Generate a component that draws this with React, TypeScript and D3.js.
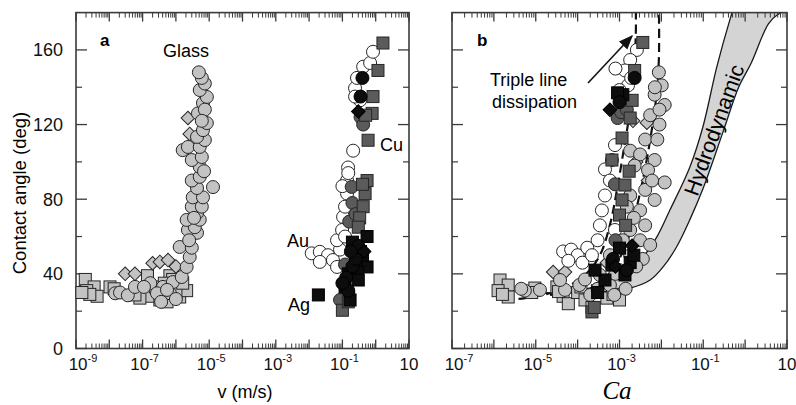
import React from 'react'
import * as d3 from 'd3'

type Pt = [number, number]

// ---- panel a: v (m/s) vs contact angle (deg) ----
const glassSquaresA: Pt[] = [
  [1.9e-9, 37], [3.5e-9, 33], [2.1e-9, 31], [4.3e-9, 28], [2.6e-9, 29], [1.5e-9, 30],
  [1.05e-8, 33], [1.4e-8, 32], [1.4e-7, 39], [1.7e-7, 28], [6.6e-7, 39], [8e-7, 37],
  [3.3e-7, 26], [1.3e-6, 27.6], [2.1e-6, 31], [8.3e-8, 27], [5.9e-8, 28.7], [5.4e-7, 25],
  [1e-6, 30], [2.4e-7, 33], [4.5e-7, 35], [1.6e-6, 35]
]
const glassDiamondsA: Pt[] = [
  [3e-8, 40], [5.9e-8, 40], [2e-7, 45.7], [3.3e-7, 46.4], [5.8e-7, 47.4], [2.3e-6, 123.5],
  [2.6e-6, 115], [1e-6, 44]
]
const glassCirclesA: Pt[] = [
  [1.5e-8, 29.6], [2.1e-8, 30], [3.6e-8, 28.5], [5.9e-8, 33], [1.7e-7, 35], [4.1e-7, 33],
  [6.6e-7, 29.6], [8.1e-7, 35.6], [1.5e-6, 38.3], [2.1e-6, 43.7], [2.6e-6, 49], [1.3e-6, 54.4],
  [3e-6, 54], [4.3e-6, 62], [2.3e-6, 63.5], [3.7e-6, 65], [2.1e-6, 68.9], [5.2e-6, 69],
  [4.3e-6, 72.6], [3e-6, 76], [6e-6, 76], [3.2e-6, 81], [6.5e-6, 81], [1.3e-5, 86.5],
  [4.3e-6, 86], [3e-6, 90], [5.2e-6, 92], [5.2e-6, 97.3], [3e-6, 101], [6e-6, 102.6],
  [1.6e-6, 106.3], [2.3e-6, 108], [5.2e-6, 108], [7.4e-6, 111.7], [4.3e-6, 113.4], [6.5e-6, 117],
  [8.5e-6, 120.8], [4.6e-6, 126], [6.5e-6, 131.5], [8.5e-6, 134.8], [5.2e-6, 138.5], [7.4e-6, 142],
  [6e-6, 145], [4.9e-6, 148], [1.1e-7, 33], [2.7e-7, 29.6], [5.4e-7, 31.4], [3.6e-7, 25],
  [1e-6, 26.5], [7.4e-6, 128], [6e-6, 122], [7e-6, 95], [2.5e-6, 58], [3.5e-6, 70]
]
const auCirclesA: Pt[] = [
  [1.2e-2, 51], [2.1e-2, 51.8], [3.7e-2, 50], [2.1e-2, 46.4], [5.2e-2, 47.4], [6.9e-2, 43.7],
  [8.5e-2, 53], [6.9e-2, 58], [9.8e-2, 63.5], [0.105, 70.5], [0.12, 76], [0.138, 83],
  [0.138, 90], [0.148, 97], [0.21, 106], [0.34, 133], [0.24, 139.5], [0.275, 145],
  [0.42, 151], [0.68, 153], [0.83, 159], [0.24, 135], [0.1, 87], [0.12, 60], [0.15, 94]
]
const cuSquaresA: Pt[] = [
  [1.65, 163.7], [1.17, 149], [0.83, 135], [0.78, 126], [0.59, 111.6], [0.55, 90],
  [0.48, 83], [0.42, 76], [0.33, 70], [0.1, 20.5], [0.15, 25], [0.5, 125], [0.4, 88], [0.3, 65]
]
const cuCirclesA: Pt[] = [
  [0.35, 124], [0.42, 120], [0.19, 86.6], [0.2, 78], [0.16, 68], [0.15, 30],
  [0.085, 26], [0.12, 45], [0.25, 72]
]
const agSquaresA: Pt[] = [
  [1.9e-2, 28.7], [0.55, 43.7], [0.55, 60], [0.35, 52], [0.25, 47], [0.12, 33],
  [0.15, 40], [0.28, 41], [0.3, 36.7], [0.17, 26], [0.4, 50], [0.2, 57]
]
const agCirclesA: Pt[] = [
  [0.13, 38], [0.2, 44], [0.15, 31], [0.3, 55], [0.1, 35], [0.4, 145], [0.35, 135],
  [0.25, 48], [0.18, 52]
]
const agDiamondsA: Pt[] = [[0.3, 127], [0.45, 52]]

// ---- panel b: Ca vs contact angle (deg) ----
const glassSquaresB: Pt[] = [
  [1.4e-6, 36.7], [2.2e-6, 34], [1.26e-6, 31], [2.2e-6, 27.6], [1.6e-6, 29], [9.5e-6, 32.4],
  [8e-6, 30], [3.2e-5, 33], [4.5e-5, 28], [6e-5, 24], [1e-4, 30], [1.5e-4, 26], [2.2e-4, 22],
  [3e-4, 31], [5e-4, 27], [7e-4, 29], [1e-3, 26], [3.5e-5, 30.5], [1.2e-4, 33]
]
const glassDiamondsB: Pt[] = [
  [2.6e-5, 41], [5e-5, 41], [5e-4, 46], [2.1e-3, 122], [4.5e-3, 121], [4.8e-3, 90],
  [2.5e-3, 100], [1.2e-3, 40]
]
const glassCirclesB: Pt[] = [
  [8.7e-3, 148], [1.02e-2, 141], [6.9e-3, 136], [1.2e-2, 130.5], [5.4e-3, 125], [9e-3, 120],
  [4.1e-3, 112], [8e-3, 112], [1.8e-3, 106], [3.1e-3, 104], [6.9e-3, 101], [2.3e-3, 98],
  [4.8e-3, 95.6], [1.2e-2, 89], [4.1e-3, 85], [1.8e-3, 82], [6.9e-3, 79.6], [3.1e-3, 74],
  [1.5e-3, 76], [4.1e-3, 66], [1.8e-3, 63.5], [1.2e-3, 58], [3.1e-3, 58], [5.4e-3, 55.5],
  [5.9e-4, 50], [1.8e-3, 50], [3.6e-3, 48], [1e-3, 42], [3.4e-4, 39.4], [2.5e-3, 44],
  [5.9e-4, 34], [1.1e-4, 34], [5e-5, 31.4], [1.26e-5, 31.4], [5.5e-6, 31], [4.5e-6, 32],
  [2e-4, 28.7], [7.5e-4, 28.7], [3.8e-5, 36.7], [1.5e-4, 37], [7e-3, 140], [9e-3, 128],
  [6e-3, 90], [2.2e-3, 70], [8e-4, 40], [3e-4, 32], [1.4e-3, 32]
]
const auCirclesB: Pt[] = [
  [2.6e-3, 160], [1.8e-3, 154.6], [1.35e-3, 149], [1.6e-3, 141], [1e-3, 138.5], [7.8e-4, 109],
  [6.6e-4, 101], [4.5e-4, 96], [5.9e-4, 90], [4.5e-4, 82], [3.8e-4, 74], [3.4e-4, 66],
  [3e-4, 58], [7.8e-4, 63.5], [4.5e-5, 52], [7e-5, 53], [1e-4, 50], [6e-5, 47],
  [1.3e-4, 46], [1.7e-4, 54], [2.2e-4, 50], [1.9e-3, 145], [8e-4, 150]
]
const cuSquaresB: Pt[] = [
  [3.6e-3, 164], [2.3e-3, 149], [2e-3, 133], [1.8e-3, 123.5], [1.15e-3, 112.8], [1.35e-3, 87.6],
  [1.15e-3, 79.6], [1e-3, 71.5], [1.4e-3, 66], [6.6e-4, 101], [2.2e-4, 19.6], [2.5e-4, 22],
  [1.7e-3, 95]
]
const cuCirclesB: Pt[] = [[9e-4, 123.5], [1.1e-3, 126.6], [7.8e-4, 88], [8e-4, 58], [1.5e-3, 128]]
const agSquaresB: Pt[] = [
  [1.2e-3, 136], [9e-4, 137], [6.6e-4, 44.7], [1.35e-3, 39.4], [4.5e-4, 36.7], [1.8e-3, 46],
  [3e-4, 30], [2.6e-4, 42], [1e-3, 53.8], [2.2e-3, 50]
]
const agCirclesB: Pt[] = [[2.3e-3, 145], [1e-3, 132], [7e-4, 48], [1.5e-3, 42]]
const agDiamondsB: Pt[] = [[5.9e-4, 128], [8e-4, 44], [2e-3, 55]]

// model curves in panel b
const tripleLine1: Pt[] = [
  [1.8e-6, 26], [5.5e-6, 27], [3.8e-5, 31.4], [1.5e-4, 39.4], [3.4e-4, 50], [5.9e-4, 66.2],
  [8.7e-4, 85], [1.26e-3, 106.4], [1.78e-3, 127.8], [2.2e-3, 149.5], [2.45e-3, 168], [2.45e-3, 185]
]
const tripleLine2: Pt[] = [
  [2.2e-5, 28.7], [1.1e-4, 31.4], [4.5e-4, 37.8], [1.26e-3, 52.8], [2.3e-3, 71.5],
  [3.6e-3, 90.3], [5.4e-3, 111.8], [7.4e-3, 133], [8.7e-3, 154.6], [8.7e-3, 185]
]
const hydroLeft: Pt[] = [
  [1.6e-5, 29.8], [1.9e-4, 32.4], [1e-3, 38.9], [3.6e-3, 49], [7.8e-3, 59.8], [1.6e-2, 74.2],
  [4.8e-2, 97.3], [9.8e-2, 118.7], [0.21, 150.8], [0.43, 176], [0.6, 186]
]
const hydroRight: Pt[] = [
  [1.6e-5, 29.6], [3.4e-4, 30.3], [1.8e-3, 32.4], [5.4e-3, 36.7], [1.1e-2, 43.7], [2.3e-2, 54.4],
  [5e-2, 70], [0.1, 86], [0.29, 115.4], [0.7, 140], [1.4, 153], [3.6, 174], [6, 179], [10, 181]
]

const yMajor = [0, 40, 80, 120, 160]
const yMinor = [20, 60, 100, 140]
const xLabelsA = [-9, -7, -5, -3, -1, 1]
const xLabelsB = [-7, -5, -3, -1, 1]

const FONT = 'Liberation Sans, Arial, Helvetica, sans-serif'
const LIGHT = '#c3c3c3'
const DARK = '#5b5b5b'
const BLACK = '#0d0d0d'
const EDGE = '#262626'

type Shape = 'circle' | 'square' | 'diamond'

function Marker({ cx, cy, shape, fill }: { cx: number; cy: number; shape: Shape; fill: string }) {
  const stroke = fill === BLACK ? '#000' : EDGE
  if (shape === 'circle') return <circle cx={cx} cy={cy} r={6.5} fill={fill} stroke={stroke} strokeWidth={1} />
  if (shape === 'square') return <rect x={cx - 6} y={cy - 6} width={12} height={12} fill={fill} stroke={stroke} strokeWidth={1} />
  return <rect x={cx - 4.8} y={cy - 4.8} width={9.6} height={9.6} fill={fill} stroke={stroke} strokeWidth={1} transform={`rotate(45 ${cx} ${cy})`} />
}

function Series({ data, x, y, shape, fill }: any) {
  return <g>{data.map((d: Pt, i: number) => <Marker key={i} cx={x(d[0])} cy={y(d[1])} shape={shape} fill={fill} />)}</g>
}

function Frame({ x, y, labels, yLabels }: any) {
  const [x0, x1] = x.range()
  const [y0, y1] = y.range()
  const [lo, hi] = x.domain().map((v: number) => Math.round(Math.log10(v)))
  const majors: number[] = d3.range(lo, hi + 1).map(e => Math.pow(10, e))
  const minors: number[] = []
  d3.range(lo, hi).forEach(e => d3.range(2, 10).forEach(k => minors.push(k * Math.pow(10, e))))
  const c = '#3a3a3a'
  return (
    <g>
      {minors.map((v, i) => (
        <g key={'m' + i} stroke={c} strokeWidth={1}>
          <line x1={x(v)} x2={x(v)} y1={y0} y2={y0 - 5} />
          <line x1={x(v)} x2={x(v)} y1={y1} y2={y1 + 5} />
        </g>
      ))}
      {majors.map((v, i) => (
        <g key={'M' + i} stroke={c} strokeWidth={1.3}>
          <line x1={x(v)} x2={x(v)} y1={y0} y2={y0 - 9} />
          <line x1={x(v)} x2={x(v)} y1={y1} y2={y1 + 9} />
        </g>
      ))}
      {yMajor.map((v, i) => (
        <g key={'Y' + i} stroke={c} strokeWidth={1.3}>
          <line x1={x0} x2={x0 + 11} y1={y(v)} y2={y(v)} />
          <line x1={x1} x2={x1 - 11} y1={y(v)} y2={y(v)} />
        </g>
      ))}
      {yMinor.map((v, i) => (
        <g key={'y' + i} stroke={c} strokeWidth={1.2}>
          <line x1={x0} x2={x0 + 6} y1={y(v)} y2={y(v)} />
          <line x1={x1} x2={x1 - 6} y1={y(v)} y2={y(v)} />
        </g>
      ))}
      <rect x={x0} y={y1} width={x1 - x0} height={y0 - y1} fill="none" stroke={c} strokeWidth={1.6} />
      {labels.map((e: number) => (
        <text key={'l' + e} x={x(Math.pow(10, e)) + (e === lo ? 7 : e === 1 ? 0 : 2)} y={370} textAnchor="middle" fontSize={17} fontFamily={FONT} fill="#111">
          10{e !== 1 && <tspan dy={-8} fontSize={11}>{e}</tspan>}
        </text>
      ))}
      {yLabels && yMajor.map(v => (
        <text key={'t' + v} x={x0 - 13} y={y(v)} dy="0.36em" textAnchor="end" fontSize={18} fontFamily={FONT} fill="#111">{v}</text>
      ))}
    </g>
  )
}

export default function App() {
  const yA = d3.scaleLinear().domain([0, 180]).range([348.5, 12.6])
  const xA = d3.scaleLog().domain([1e-9, 10]).range([76, 409])
  const xB = d3.scaleLog().domain([1e-7, 10]).range([452, 787])

  const line = (xs: any) => d3.line<Pt>().x(d => xs(d[0])).y(d => yA(d[1])).curve(d3.curveCatmullRom.alpha(0.5))
  const bandPath = line(xB)([...hydroLeft, ...hydroRight.slice().reverse()]) || ''

  const seriesA = [
    { data: glassSquaresA, shape: 'square', fill: LIGHT },
    { data: glassDiamondsA, shape: 'diamond', fill: LIGHT },
    { data: glassCirclesA, shape: 'circle', fill: LIGHT },
    { data: auCirclesA, shape: 'circle', fill: '#fff' },
    { data: cuCirclesA, shape: 'circle', fill: DARK },
    { data: cuSquaresA, shape: 'square', fill: DARK },
    { data: agSquaresA, shape: 'square', fill: BLACK },
    { data: agCirclesA, shape: 'circle', fill: BLACK },
    { data: agDiamondsA, shape: 'diamond', fill: BLACK }
  ]
  const seriesB = [
    { data: glassSquaresB, shape: 'square', fill: LIGHT },
    { data: glassDiamondsB, shape: 'diamond', fill: LIGHT },
    { data: glassCirclesB, shape: 'circle', fill: LIGHT },
    { data: auCirclesB, shape: 'circle', fill: '#fff' },
    { data: cuCirclesB, shape: 'circle', fill: DARK },
    { data: cuSquaresB, shape: 'square', fill: DARK },
    { data: agSquaresB, shape: 'square', fill: BLACK },
    { data: agCirclesB, shape: 'circle', fill: BLACK },
    { data: agDiamondsB, shape: 'diamond', fill: BLACK }
  ]

  return (
    <svg width={796} height={405} style={{ position: 'absolute', left: 0, top: 0, background: '#fff' }}>
      <defs>
        <clipPath id="clipB"><rect x={452} y={12.6} width={335} height={336} /></clipPath>
        <marker id="arrow" viewBox="0 0 10 10" refX={9} refY={5} markerWidth={9} markerHeight={9} orient="auto">
          <path d="M0,1 L10,5 L0,9 Z" fill="#111" />
        </marker>
      </defs>

      {/* panel a */}
      <Frame x={xA} y={yA} labels={xLabelsA} yLabels />
      {seriesA.map((s, i) => <Series key={i} x={xA} y={yA} {...s} />)}
      <text x={100} y={46} fontSize={17} fontWeight="bold" fontFamily={FONT}>a</text>
      <text x={163} y={57} fontSize={18} fontFamily={FONT}>Glass</text>
      <text x={380} y={151} fontSize={18} fontFamily={FONT}>Cu</text>
      <text x={287} y={247} fontSize={18} fontFamily={FONT}>Au</text>
      <text x={288} y={311} fontSize={18} fontFamily={FONT}>Ag</text>
      <text x={245} y={398} textAnchor="middle" fontSize={18} fontFamily={FONT}>v (m/s)</text>
      <text transform="translate(26,193) rotate(-90)" textAnchor="middle" fontSize={18.5} fontFamily={FONT}>Contact angle (deg)</text>

      {/* panel b */}
      <g clipPath="url(#clipB)">
        <path d={bandPath} fill="#d4d4d4" stroke="none" />
        <path d={line(xB)(hydroLeft) || ''} fill="none" stroke="#1a1a1a" strokeWidth={1.3} />
        <path d={line(xB)(hydroRight) || ''} fill="none" stroke="#1a1a1a" strokeWidth={1.3} />
        <path d={line(xB)(tripleLine1) || ''} fill="none" stroke="#111" strokeWidth={2.2} strokeDasharray="9,5" />
        <path d={line(xB)(tripleLine2) || ''} fill="none" stroke="#111" strokeWidth={2.2} strokeDasharray="9,5" />
      </g>
      {seriesB.map((s, i) => <Series key={i} x={xB} y={yA} {...s} />)}
      <Frame x={xB} y={yA} labels={xLabelsB} yLabels={false} />
      <text x={477} y={46} fontSize={17} fontWeight="bold" fontFamily={FONT}>b</text>
      <text x={490} y={86} fontSize={18} fontFamily={FONT}>Triple line</text>
      <text x={492} y={108} fontSize={18} fontFamily={FONT}>dissipation</text>
      <line x1={588} y1={83} x2={632} y2={36} stroke="#111" strokeWidth={1.6} markerEnd="url(#arrow)" />
      <text transform="translate(714,130) rotate(-70)" textAnchor="middle" dy="0.35em" fontSize={21.5} fontFamily={FONT}>Hydrodynamic</text>
      <text x={617} y={399} textAnchor="middle" fontSize={25} fontStyle="italic" fontFamily="Liberation Serif, Times New Roman, serif">Ca</text>
    </svg>
  )
}
